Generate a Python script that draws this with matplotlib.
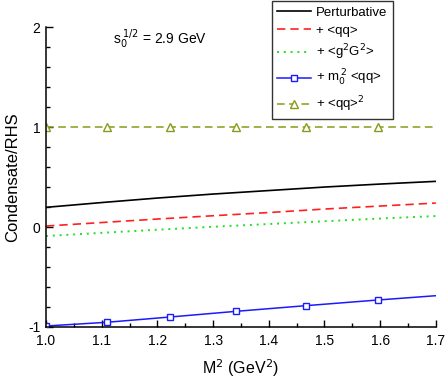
import numpy as np
import matplotlib
matplotlib.use("Agg")
import matplotlib.pyplot as plt
from matplotlib.ticker import MultipleLocator

plt.rcParams['font.family'] = ['Liberation Sans', 'DejaVu Sans']

# values
m2 = [1.0, 1.1, 1.2, 1.3, 1.4, 1.5, 1.6, 1.7]
perturbative = [0.197, 0.245, 0.29, 0.33, 0.365, 0.40, 0.43, 0.457]
plus_qq = [0.01, 0.045, 0.08, 0.113, 0.145, 0.18, 0.21, 0.24]
plus_gg = [-0.09, -0.058, -0.027, 0.003, 0.03, 0.058, 0.085, 0.11]

m2_markers = [1.0, 1.109, 1.223, 1.342, 1.466, 1.596, 1.7]
plus_m0 = [-0.99, -0.953, -0.90, -0.843, -0.787, -0.73, -0.687]
plus_qq2 = [1.0, 1.0, 1.0, 1.0, 1.0, 1.0, 1.0]
xtick_labels = ['1.0', '1.1', '1.2', '1.3', '1.4', '1.5', '1.6', '1.7']

fig = plt.figure(figsize=(4.47, 3.82), dpi=100)
ax = fig.add_axes([0.103, 0.144, 0.872, 0.785])

ax.plot(m2, perturbative, color='black', lw=1.2, label='Perturbative')
ax.plot(m2, plus_qq, color='#ff2020', lw=1.2, ls=(0, (5, 3)), label='+ <qq>')
ax.plot(m2, plus_gg, color='#20e020', lw=1.4, ls=(0, (1, 2.5)), label='+ <g$^2$G$^2$>')
ax.plot(m2_markers, plus_m0, color='#1a1aff', lw=1.1, marker='s', ms=4.5,
        mfc='white', mec='#1a1aff', mew=1.0, markevery=list(range(6)),
        label='+ m$_0^{\\,2}$ <qq>')
ax.plot(m2_markers, plus_qq2, color='#8a9a1a', lw=1.1, ls=(0, (5, 3)), marker='^', ms=6,
        mfc='white', mec='#8a9a1a', mew=1.0, markevery=list(range(6)),
        label='+ <qq>$^2$')

ax.set_xlim(1.0, 1.7)
ax.set_ylim(-1, 2)
ax.set_xticks(m2)
ax.set_xticklabels(xtick_labels)
ax.xaxis.set_minor_locator(MultipleLocator(0.05))
ax.set_yticks([-1, 0, 1, 2])
ax.set_yticklabels(['-1', '0', '1', '2'])
ax.yaxis.set_minor_locator(MultipleLocator(0.2))
ax.tick_params(which='both', direction='in', labelsize=10, width=1)
ax.tick_params(which='major', length=5)
ax.tick_params(axis='x', which='major', pad=5)
ax.tick_params(axis='y', which='major', pad=4)
ax.tick_params(which='minor', length=3)
ax.spines['top'].set_visible(False)
ax.spines['right'].set_visible(False)
ax.spines['left'].set_linewidth(1.1)
ax.spines['bottom'].set_linewidth(1.1)

ax.set_xlabel('M$^2$ (GeV$^2$)', fontsize=11.5, labelpad=7)
ax.set_ylabel('Condensate/RHS', fontsize=12, labelpad=6)

ax.text(1.12, 1.88, 's$_0^{\\;1/2}$ = 2.9 GeV', fontsize=10, ha='left', va='center')

leg = fig.legend(loc='upper left', bbox_to_anchor=(0.608, 0.997), fontsize=9.5,
                 frameon=True, fancybox=False, edgecolor='black', handlelength=2.6,
                 labelspacing=0.45, borderpad=0.4, borderaxespad=0, handletextpad=0.35)
leg.get_frame().set_linewidth(1.0)

fig.savefig('out.png', dpi=100)
